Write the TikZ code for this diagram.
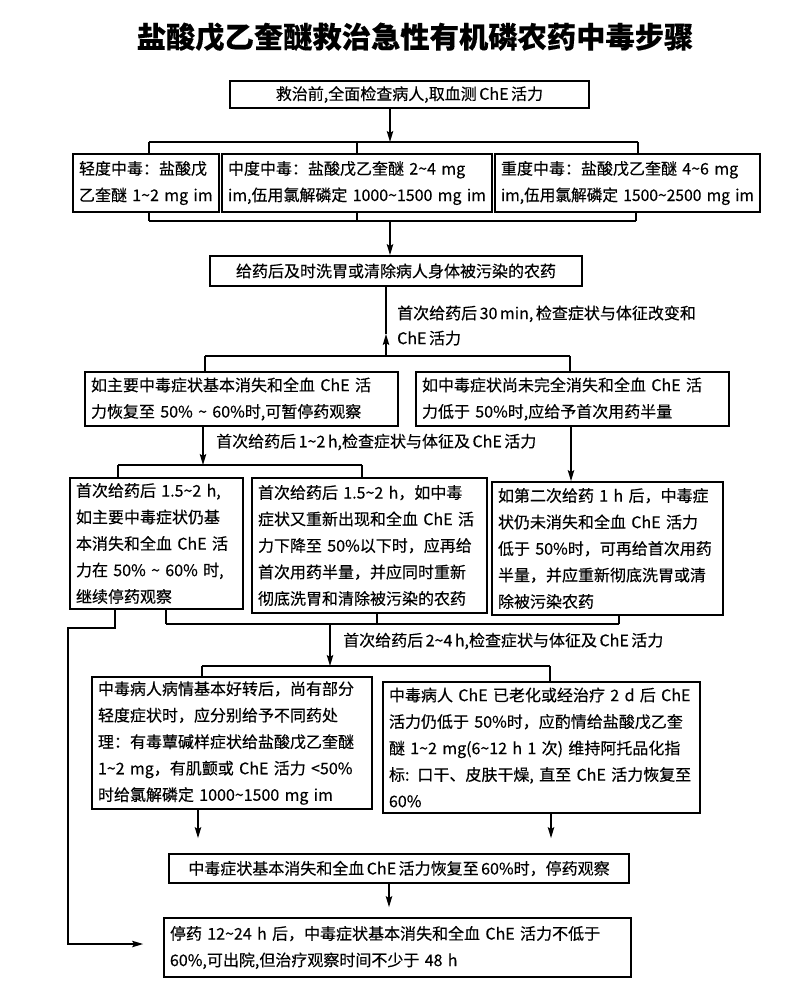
\documentclass[tikz,border=0pt]{standalone}
\usepackage{fontspec}
\usepackage{graphicx}
\newfontfamily\cjkf{Noto Sans CJK SC}[WordSpace=0.7, FakeBold=0.3]
\usetikzlibrary{arrows.meta}
\XeTeXlinebreaklocale "zh"
\XeTeXlinebreakskip=0pt plus 1pt
\newcommand\tld{\textasciitilde}
\newcommand\Lx[1]{\mbox{#1}}
\newcommand\Jx[1]{\makebox[\hsize][s]{#1}}
\newcommand\Sx[1]{\resizebox{\hsize}{\height}{#1}}
\newcommand\bodyfont{\cjkf\fontsize{16}{26.5}\selectfont}
\begin{document}
\begin{tikzpicture}[x=1pt,y=-1pt,
  box/.style={draw, line width=1.8pt, inner xsep=6pt, inner ysep=0pt, font=\bodyfont, align=left},
  cbox/.style={draw, line width=1.8pt, inner xsep=6pt, inner ysep=0pt, font=\bodyfont, align=center},
  lbl/.style={inner sep=0pt, font=\cjkf\fontsize{16}{25}\selectfont, align=left, anchor=west},
  conn/.style={line width=1.3pt},
  arr/.style={line width=1.3pt, -{Stealth[length=11pt,width=6.5pt,inset=2pt]}},
  ttl/.style={font=\cjkf\bfseries\fontsize{29.3}{31}\selectfont}]
\useasboundingbox (0,0) rectangle (786,996);
\fill[white] (0,0) rectangle (786,996);

\node[ttl] (t) at (415,37) {盐酸戊乙奎醚救治急性有机磷农药中毒步骤};

\node[cbox, minimum width=359pt, minimum height=27pt] (b1) at (409.5,94.5) {救治前,全面检查病人,取血测 ChE 活力};

\node[box, minimum width=146pt, text width=134pt, minimum height=58pt] (A) at (146,183) {\Jx{轻度中毒：盐酸戊}\\\Jx{乙奎醚 1\tld2 mg im}};
\node[box, minimum width=270pt, text width=258pt, minimum height=58pt] (B) at (357,183) {\Jx{中度中毒：盐酸戊乙奎醚 2\tld4 mg}\\\Sx{im,伍用氯解磷定 1000\tld1500 mg im}};
\node[box, minimum width=265pt, text width=253pt, minimum height=58pt] (C) at (627.5,183) {\Jx{重度中毒：盐酸戊乙奎醚 4\tld6 mg}\\\Sx{im,伍用氯解磷定 1500\tld2500 mg im}};

\node[cbox, minimum width=372pt, minimum height=30pt] (b4) at (396,271) {给药后及时洗胃或清除病人身体被污染的农药};

\node[lbl] (l1) at (397,325.5) {\Lx{首次给药后 30 min, 检查症状与体征改变和}\\ChE 活力};

\node[box, minimum width=313pt, text width=301pt, minimum height=54pt] (b5) at (241.5,399) {\Jx{如主要中毒症状基本消失和全血 ChE 活}\\\Lx{力恢复至 50\% \tld{} 60\%时,可暂停药观察}};
\node[box, minimum width=313pt, text width=301pt, minimum height=54pt] (b6) at (572.5,399) {\Jx{如中毒症状尚未完全消失和全血 ChE 活}\\\Lx{力低于 50\%时,应给予首次用药半量}};

\node[lbl] (l2) at (216,442) {\Lx{首次给药后 1\tld2 h,检查症状与体征及 ChE 活力}};

\node[box, minimum width=173pt, text width=161pt, minimum height=131pt] (b7) at (156.5,543.5) {\Jx{首次给药后 1.5\tld2 h,}\\\Jx{如主要中毒症状仍基}\\\Jx{本消失和全血 ChE 活}\\\Jx{力在 50\% \tld{} 60\% 时,}\\\Lx{继续停药观察}};
\node[box, minimum width=235pt, text width=223pt, minimum height=135pt] (b8) at (369.5,545.5) {\Jx{首次给药后 1.5\tld2 h，如中毒}\\\Jx{症状又重新出现和全血 ChE 活}\\\Jx{力下降至 50\%以下时，应再给}\\\Jx{首次用药半量，并应同时重新}\\\Jx{彻底洗胃和清除被污染的农药}};
\node[box, minimum width=231pt, text width=219pt, minimum height=133pt] (b9) at (607.5,548.5) {\Jx{如第二次给药 1 h 后，中毒症}\\\Jx{状仍未消失和全血 ChE 活力}\\\Jx{低于 50\%时，可再给首次用药}\\\Jx{半量，并应重新彻底洗胃或清}\\\Lx{除被污染农药}};

\node[lbl] (l3) at (343,641) {\Lx{首次给药后 2\tld4 h,检查症状与体征及 ChE 活力}};

\node[box, minimum width=280pt, text width=268pt, minimum height=132pt] (b10) at (232,743) {\Jx{中毒病人病情基本好转后，尚有部分}\\\Jx{轻度症状时，应分别给予不同药处}\\\Jx{理：有毒蕈碱样症状给盐酸戊乙奎醚}\\\Jx{1\tld2 mg，有肌颤或 ChE 活力 <50\%}\\\Lx{时给氯解磷定 1000\tld1500 mg im}};
\node[box, minimum width=317pt, text width=305pt, minimum height=131pt] (b11) at (541.5,747.5) {\Jx{中毒病人 ChE 已老化或经治疗 2 d 后 ChE}\\\Jx{活力仍低于 50\%时，应酌情给盐酸戊乙奎}\\\Jx{醚 1\tld2 mg(6\tld12 h 1 次) 维持阿托品化指}\\\Jx{标: 口干、皮肤干燥, 直至 ChE 活力恢复至}\\\Lx{60\%}};

\node[cbox, minimum width=460pt, minimum height=29pt] (b12) at (399,868.5) {中毒症状基本消失和全血 ChE 活力恢复至 60\%时，停药观察};
\node[box, minimum width=467pt, text width=455pt, minimum height=59pt] (b13) at (397.5,947.5) {\Jx{停药 12\tld24 h 后，中毒症状基本消失和全血 ChE 活力不低于}\\\Lx{60\%,可出院,但治疗观察时间不少于 48 h}};

% junction coordinates
\coordinate (j1) at (390,142);
\coordinate (jA) at (149,142);
\coordinate (jB) at (357,142);
\coordinate (jC) at (638,142);
\coordinate (k1) at (390,221);
\coordinate (kA) at (149,221);
\coordinate (kB) at (357,221);
\coordinate (kC) at (636,221);
\coordinate (m1) at (386,356);
\coordinate (m2) at (386,334);
\coordinate (m5) at (205,356);
\coordinate (m6) at (570,356);
\coordinate (n1) at (203,465);
\coordinate (n7) at (118,465);
\coordinate (n8) at (362,465);
\coordinate (n9) at (571,450);
\coordinate (p0) at (330,624);
\coordinate (p7) at (166,624);
\coordinate (p8) at (377,624);
\coordinate (p9) at (619,624);
\coordinate (q0) at (330,666);
\coordinate (q1) at (202,666);
\coordinate (q2) at (550,666);
\coordinate (r1) at (115,628);
\coordinate (r2) at (68,628);
\coordinate (r3) at (68,944);
\coordinate (s1) at (198,840);
\coordinate (s2) at (551,840);
\coordinate (s3) at (389,900);

% connectors
\draw[arr] (b1.south -| j1) -- (j1);
\draw[conn] (jA) -- (jC);
\draw[conn] (jA) -- (A.north -| jA);
\draw[conn] (jB) -- (B.north -| jB);
\draw[conn] (jC) -- (C.north -| jC);
\draw[conn] (A.south -| kA) -- (kA);
\draw[conn] (B.south -| kB) -- (kB);
\draw[conn] (C.south -| kC) -- (kC);
\draw[conn] (kA) -- (kC);
\draw[arr] (k1) -- (b4.north -| k1);

\draw[conn] (m2) -- (b4.south -| m2);
\draw[arr] (m1) -- (m2);
\draw[conn] (m5) -- (m6);
\draw[conn] (m5) -- (b5.north -| m5);
\draw[conn] (m6) -- (b6.north -| m6);

\draw[arr] (b5.south -| n1) -- (n1);
\draw[conn] (n7) -- (n8);
\draw[conn] (n7) -- (b7.north -| n7);
\draw[conn] (n8) -- (b8.north -| n8);
\draw[arr] (b6.south -| n9) -- (b9.north -| n9);

\draw[conn] (b7.south -| p7) -- (p7);
\draw[conn] (b8.south -| p8) -- (p8);
\draw[conn] (b9.south -| p9) -- (p9);
\draw[conn] (p7) -- (p9);
\draw[arr] (p0) -- (q0);

\draw[arr, shorten >=20pt] (b7.south -| r1) -- (r1) -- (r2) -- (r3) -- (b13.west |- r3);

\draw[conn] (q1) -- (q2);
\draw[conn] (q1) -- (b10.north -| q1);
\draw[conn] (q2) -- (b11.north -| q2);

\draw[arr, shorten >=15pt] (b10.south -| s1) -- (b12.north -| s1);
\draw[arr, shorten >=15pt] (b11.south -| s2) -- (b12.north -| s2);
\draw[arr, shorten >=10pt] (b12.south -| s3) -- (b13.north -| s3);
\end{tikzpicture}
\end{document}
